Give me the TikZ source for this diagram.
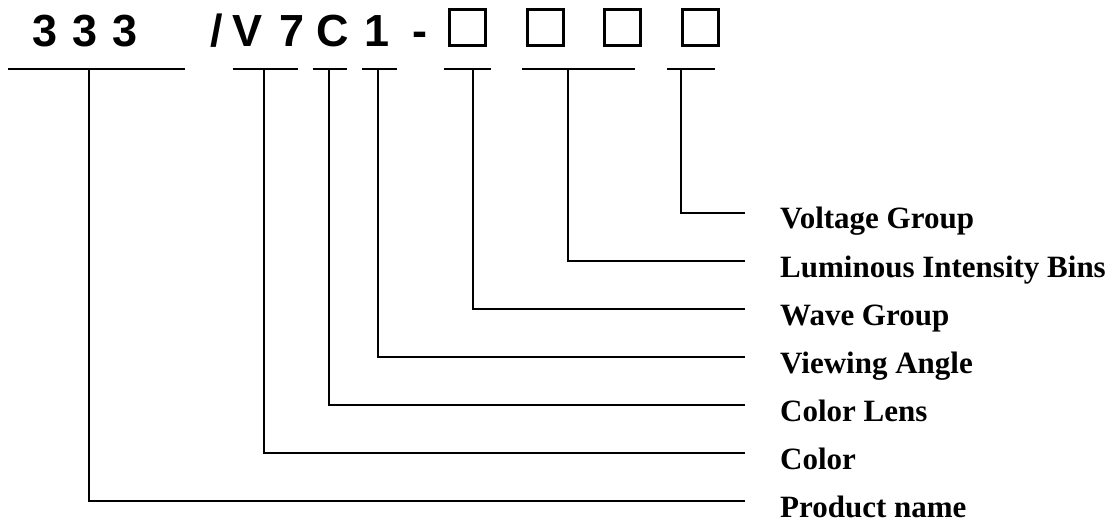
\documentclass[tikz,border=0pt]{standalone}
\usepackage{fontspec}
\setmainfont{Liberation Serif}
\newfontfamily\codefont{Liberation Sans}
\begin{document}
\begin{tikzpicture}[x=1pt, y=-1pt,
    seg/.style={line width=1.5pt, line cap=butt},
    box/.style={line width=3pt},
    code/.style={font=\codefont\bfseries\fontsize{45}{50}\selectfont, inner sep=0pt, anchor=base},
    lbl/.style={font=\bfseries\fontsize{31}{36}\selectfont, inner sep=0pt, anchor=base west}]
    \useasboundingbox (0,0) rectangle (1120,524);

    % 1. Ma san pham
    \foreach \x/\c [count=\i] in {45/3, 85/3, 125/3, 217/\slash, 248/V, 292/7, 333/C, 377/1, 420/-}
        \node[code] (c\i) at (\x,47) {\c};

    % 2. Cac o trong
    \foreach \x [count=\i] in {467.5, 545.5, 622.5, 700}
        \draw[box] (\x-18,9.5) rectangle (\x+18,45.5);

    % 3. Gach chan, duong gioc va nhan
    \foreach \a/\b/\v/\y/\t [count=\i] in {8/185/89/501/Product name,
            233/298/264/453/Color,
            313/347/329/405/Color Lens,
            362/397/378/357/Viewing Angle,
            444/491/473/309/Wave Group,
            522/635/568/261/Luminous Intensity Bins,
            667/715/681/213/Voltage Group} {
        \draw[seg] (\a,69) -- (\b,69);
        \coordinate (u\i) at (\v,69);
        \coordinate (e\i) at (745,\y);
        \node[lbl] (l\i) at ([shift={(35,16)}]e\i) {\t};
        \draw[seg] (u\i) |- (e\i);
    }
\end{tikzpicture}
\end{document}
